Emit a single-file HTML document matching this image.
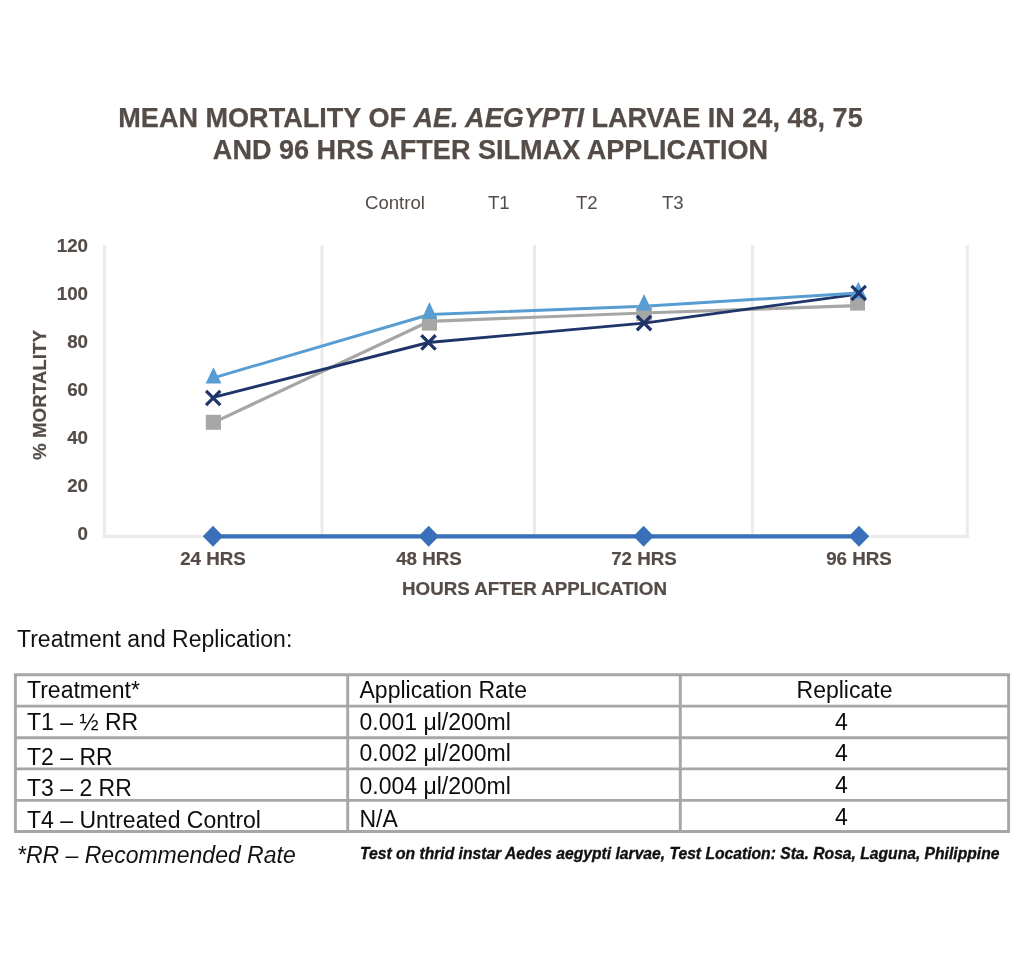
<!DOCTYPE html>
<html lang="en">
<head>
<meta charset="utf-8">
<title>Mean Mortality of Ae. aegypti Larvae</title>
<style>
html,body{margin:0;padding:0;background:#fff;}
body{width:1024px;height:971px;position:relative;overflow:hidden;font-family:"Liberation Sans",Arial,Helvetica,sans-serif;}
.abs{position:absolute;white-space:nowrap;}
.title{-webkit-text-stroke:0.25px #554c48;left:0;width:981px;text-align:center;color:#554c48;font-weight:bold;font-size:27.07px;line-height:32.5px;top:101.5px;}
.lg{color:#554c48;font-size:18.6px;line-height:20px;top:193px;}
.yl{-webkit-text-stroke:0.2px #554c48;color:#554c48;font-weight:bold;font-size:18.75px;transform:translateY(.4px);line-height:20px;width:60px;text-align:right;left:28px;}
.xl{-webkit-text-stroke:0.2px #554c48;color:#554c48;font-weight:bold;font-size:18.75px;transform:translateY(.5px);line-height:20px;width:120px;text-align:center;}
.ax{-webkit-text-stroke:0.2px #554c48;color:#554c48;font-weight:bold;font-size:18.75px;line-height:20px;}
svg{position:absolute;left:0;top:0;}
.h1{left:17px;top:626.7px;font-size:23px;line-height:24px;color:#111;}
.t{position:absolute;white-space:nowrap;font-size:23px;line-height:26px;color:#0d0d0d;}
.c1{left:27px;}
.c2{left:359.5px;}
.c3{left:680px;width:329px;text-align:center;}
.fn{left:17px;top:841.5px;font-size:23px;font-style:italic;color:#111;line-height:26px;}
.note{left:360px;top:844.5px;font-size:15.67px;-webkit-text-stroke:0.35px #111;font-style:italic;font-weight:bold;color:#111;line-height:18px;}
</style>
</head>
<body>
<div class="abs title">MEAN MORTALITY OF <i>AE. AEGYPTI</i> LARVAE IN 24, 48, 75<br>AND 96 HRS AFTER SILMAX APPLICATION</div>

<div class="abs lg" style="left:365px">Control</div>
<div class="abs lg" style="left:488px">T1</div>
<div class="abs lg" style="left:576px">T2</div>
<div class="abs lg" style="left:662px">T3</div>

<svg width="1024" height="620" viewBox="0 0 1024 620">
  <g stroke="#ebebeb" stroke-width="3" fill="none">
    <line x1="104.5" y1="245" x2="104.5" y2="538"/>
    <line x1="322" y1="245" x2="322" y2="536"/>
    <line x1="534.5" y1="245" x2="534.5" y2="536"/>
    <line x1="752.5" y1="245" x2="752.5" y2="536"/>
    <line x1="967.35" y1="245" x2="967.35" y2="538"/>
    <line x1="103" y1="536.4" x2="968.8" y2="536.4" stroke-width="3.2"/>
  </g>
  <!-- Control -->
  <polyline points="213,536.3 428.7,536.3 643.6,536.3 859,536.3" fill="none" stroke="#3970b9" stroke-width="4.3"/>
  <g fill="#3970b9">
    <path d="M213 525.8l10.2 10.5l-10.2 10.5l-10.2-10.5z"/>
    <path d="M428.7 525.8l10.2 10.5l-10.2 10.5l-10.2-10.5z"/>
    <path d="M643.6 525.8l10.2 10.5l-10.2 10.5l-10.2-10.5z"/>
    <path d="M859 525.8l10.2 10.5l-10.2 10.5l-10.2-10.5z"/>
  </g>
  <!-- series lines -->
  <polyline points="213.4,422.6 429.5,321.3 644,313 857.5,305.6" fill="none" stroke="#a6a6a5" stroke-width="3.2" stroke-linejoin="round"/>
  <polyline points="213.2,397.3 428.5,342.5 644,323.1 858.7,294.1" fill="none" stroke="#1f3468" stroke-width="2.9" stroke-linejoin="round"/>
  <polyline points="213.5,377.8 429.5,314.5 644,306.2 858.3,293" fill="none" stroke="#579dd2" stroke-width="2.9" stroke-linejoin="round"/>
  <!-- T1 markers -->
  <g fill="#a6a6a5">
    <rect x="205.8" y="414.8" width="15.2" height="15"/>
    <rect x="421.9" y="315.6" width="15.1" height="15"/>
    <rect x="636.4" y="306" width="15.4" height="15"/>
    <rect x="850.1" y="295.5" width="14.9" height="15.1"/>
  </g>
  <!-- T2 markers -->
  <g fill="#579dd2">
    <path d="M213.5 367.2l7.9 16.2h-15.8z"/>
    <path d="M429.45 302.1l7.7 17h-15.4z"/>
    <path d="M644.06 293.9l7.85 16.6h-15.7z"/>
    <path d="M858.3 281.7l8.4 16.8h-16.8z"/>
  </g>
  <!-- T3 markers -->
  <g stroke="#1f3468" stroke-width="3.2" fill="none">
    <path d="M206.05 390.8l14.3 14.3m0-14.3l-14.3 14.3"/>
    <path d="M421.35 335.25l14.3 14.3m0-14.3l-14.3 14.3"/>
    <path d="M636.9 315.95l14.3 14.3m0-14.3l-14.3 14.3"/>
    <path d="M851.55 285.85l14.3 14.3m0-14.3l-14.3 14.3"/>
  </g>
</svg>

<div class="abs yl" style="top:236px">120</div>
<div class="abs yl" style="top:284px">100</div>
<div class="abs yl" style="top:332px">80</div>
<div class="abs yl" style="top:380px">60</div>
<div class="abs yl" style="top:428px">40</div>
<div class="abs yl" style="top:476px">20</div>
<div class="abs yl" style="top:524px">0</div>

<div class="abs xl" style="left:153px;top:548px">24 HRS</div>
<div class="abs xl" style="left:369px;top:548px">48 HRS</div>
<div class="abs xl" style="left:584px;top:548px">72 HRS</div>
<div class="abs xl" style="left:799px;top:548px">96 HRS</div>

<div class="abs ax" style="left:402px;top:579px">HOURS AFTER APPLICATION</div>
<div class="abs ax" style="left:40px;top:394.7px;transform:translate(-50%,-50%) rotate(-90deg);">% MORTALITY</div>

<div class="abs h1">Treatment and Replication:</div>
<svg width="1024" height="971" viewBox="0 0 1024 971" style="pointer-events:none">
  <g stroke="#a6a6a5" stroke-width="2.9" fill="none">
    <line x1="13.95" y1="674.7" x2="1010.05" y2="674.7"/>
    <line x1="13.95" y1="706.1" x2="1010.05" y2="706.1"/>
    <line x1="13.95" y1="737.7" x2="1010.05" y2="737.7"/>
    <line x1="13.95" y1="768.9" x2="1010.05" y2="768.9"/>
    <line x1="13.95" y1="800.4" x2="1010.05" y2="800.4"/>
    <line x1="13.95" y1="831.5" x2="1010.05" y2="831.5"/>
    <line x1="15.4" y1="674.7" x2="15.4" y2="831.5"/>
    <line x1="347.7" y1="674.7" x2="347.7" y2="831.5"/>
    <line x1="680.3" y1="674.7" x2="680.3" y2="831.5"/>
    <line x1="1008.6" y1="674.7" x2="1008.6" y2="831.5"/>
  </g>
</svg>
<div role="table">
<div role="row"><div role="cell" class="t c1" style="top:677.3px;">Treatment*</div><div role="cell" class="t c2" style="top:676.8px;">Application Rate</div><div role="cell" class="t c3" style="top:677.0px;">Replicate</div></div>
<div role="row"><div role="cell" class="t c1" style="top:708.9px;">T1 – ½ RR</div><div role="cell" class="t c2" style="top:708.5px;">0.001 μl/200ml</div><div role="cell" class="t c3" style="top:708.5px;padding-right:6px;width:323px;">4</div></div>
<div role="row"><div role="cell" class="t c1" style="top:744.2px;">T2 – RR</div><div role="cell" class="t c2" style="top:740.1px;">0.002 μl/200ml</div><div role="cell" class="t c3" style="top:740.0px;padding-right:6px;width:323px;">4</div></div>
<div role="row"><div role="cell" class="t c1" style="top:775.1px;">T3 – 2 RR</div><div role="cell" class="t c2" style="top:772.9px;">0.004 μl/200ml</div><div role="cell" class="t c3" style="top:772.0px;padding-right:6px;width:323px;">4</div></div>
<div role="row"><div role="cell" class="t c1" style="top:806.6px;">T4 – Untreated Control</div><div role="cell" class="t c2" style="top:806.1px;">N/A</div><div role="cell" class="t c3" style="top:803.9px;padding-right:6px;width:323px;">4</div></div>
</div>
<div class="abs fn">*RR – Recommended Rate</div>
<div class="abs note">Test on thrid instar Aedes aegypti larvae, Test Location: Sta. Rosa, Laguna, Philippine</div>
</body>
</html>
